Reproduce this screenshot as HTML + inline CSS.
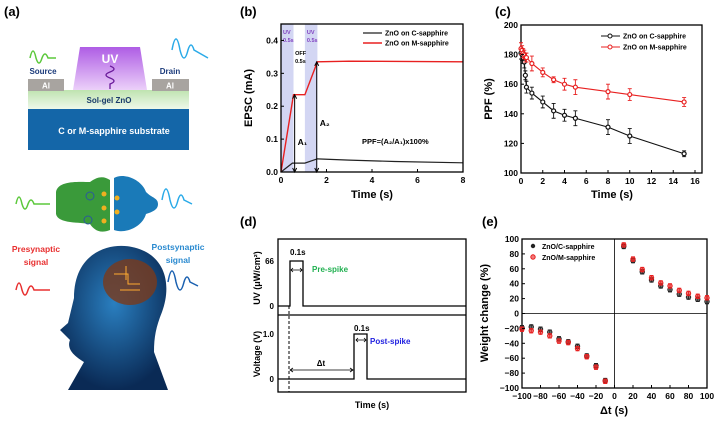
<!DOCTYPE html>
<html><head><meta charset="utf-8"><style>
body{margin:0;background:#fff}
svg{display:block;font-family:"Liberation Sans",sans-serif}
</style></head><body>
<svg id="fig" width="719" height="424" viewBox="0 0 719 424" xmlns="http://www.w3.org/2000/svg">
<defs>
<linearGradient id="uvg" x1="0" y1="0" x2="0" y2="1"><stop offset="0" stop-color="#a040e0"/><stop offset="1" stop-color="#e8c8f8"/></linearGradient>
<linearGradient id="zng" x1="0" y1="0" x2="0" y2="1"><stop offset="0" stop-color="#bfe3b0"/><stop offset="1" stop-color="#eef8ea"/></linearGradient>
<radialGradient id="headg" cx="0.5" cy="0.4" r="0.6"><stop offset="0" stop-color="#2a7fc0"/><stop offset="1" stop-color="#0a2a55"/></radialGradient>
</defs>
<g>
<text x="4" y="16" font-size="13" font-weight="bold">(a)</text>
<path d="M80,47 L140,47 L147,90 L73,90 Z" fill="url(#uvg)" opacity="0.85"/>
<text x="110" y="63" font-size="12" font-weight="bold" fill="#fff" text-anchor="middle">UV</text>
<path d="M110,66 q8,3 0,6 q-8,3 0,6 q8,3 0,6 l0,5" stroke="#6a1a9a" fill="none" stroke-width="1.3"/>
<rect x="28" y="90" width="161" height="19" fill="url(#zng)"/>
<text x="109" y="103" font-size="8" font-weight="bold" fill="#1a3a6a" text-anchor="middle">Sol-gel ZnO</text>
<rect x="28" y="79" width="36" height="12" fill="#a8a4a0"/>
<rect x="152" y="79" width="37" height="12" fill="#a8a4a0"/>
<text x="46" y="88.5" font-size="8" font-weight="bold" fill="#fff" text-anchor="middle">Al</text>
<text x="170" y="88.5" font-size="8" font-weight="bold" fill="#fff" text-anchor="middle">Al</text>
<rect x="28" y="109" width="161" height="41" fill="#1466a8"/>
<text x="114" y="134" font-size="9" font-weight="bold" fill="#fff" text-anchor="middle">C or M-sapphire substrate</text>
<text x="43" y="74" font-size="8" font-weight="bold" fill="#1a3a7a" text-anchor="middle">Source</text>
<text x="170" y="74" font-size="8" font-weight="bold" fill="#1a3a7a" text-anchor="middle">Drain</text>
<path d="M30,58 q3,-14 6,0 q3,10 6,0 q3,-8 6,0 l8,0" stroke="#5cc83c" stroke-width="1.5" fill="none"/>
<path d="M172,50 q4,-22 8,0 q4,16 8,0 q3,-10 6,0 l14,8" stroke="#2aaae8" stroke-width="1.5" fill="none"/>
<path d="M56,192 C58,180 80,182 90,182 C98,176 104,176 110,180 L110,230 C100,234 94,230 90,224 C80,222 58,224 56,214 Z" fill="#3a9a3a"/>
<path d="M114,178 C124,172 142,180 146,192 C152,198 158,198 158,204 C158,210 152,212 146,214 C142,228 124,234 114,230 Z" fill="#1a7ab8"/>
<circle cx="90" cy="196" r="4" fill="none" stroke="#2a5a9a"/><circle cx="88" cy="220" r="4" fill="none" stroke="#2a5a9a"/>
<circle cx="104" cy="194" r="2.5" fill="#f0b020"/><circle cx="104" cy="208" r="2.5" fill="#f0b020"/><circle cx="104" cy="221" r="2.5" fill="#f0b020"/>
<circle cx="117" cy="198" r="2.5" fill="#f0b020"/><circle cx="117" cy="212" r="2.5" fill="#f0b020"/>
<path d="M16,204 q3,-14 6,0 q3,10 6,0 q3,-8 6,0 l16,0" stroke="#5cc83c" stroke-width="1.5" fill="none"/>
<path d="M162,200 q4,-22 8,0 q4,16 8,0 q3,-10 6,0 l8,4" stroke="#2aaae8" stroke-width="1.5" fill="none"/>
<text x="36" y="252" font-size="8.5" font-weight="bold" fill="#e83030" text-anchor="middle">Presynaptic</text>
<text x="36" y="265" font-size="8.5" font-weight="bold" fill="#e83030" text-anchor="middle">signal</text>
<text x="178" y="250" font-size="8.5" font-weight="bold" fill="#2a8ad0" text-anchor="middle">Postsynaptic</text>
<text x="178" y="263" font-size="8.5" font-weight="bold" fill="#2a8ad0" text-anchor="middle">signal</text>
<path d="M16,290 q3,-14 6,0 q3,10 6,0 q3,-8 6,0 l16,0" stroke="#e83030" stroke-width="1.5" fill="none"/>
<path d="M168,282 q4,-22 8,0 q4,16 8,0 q3,-10 6,0 l8,4" stroke="#1a60b0" stroke-width="1.5" fill="none"/>
<path d="M74,298 C74,252 110,242 132,247 C166,254 172,285 162,312 C156,327 154,337 154,352 L168,390 L68,390 L84,362 C76,357 66,350 70,340 L60,330 L68,323 Z" fill="url(#headg)"/>
<ellipse cx="130" cy="282" rx="27" ry="23" fill="#7a3a1a" opacity="0.8"/>
<path d="M114,274 h14 v10 h12 M120,290 h20 M126,266 v14" stroke="#ffaa30" stroke-width="1" fill="none"/>
</g>
<g id="pb"></g>
<g id="pc"></g>
<g id="pd"></g>
<g id="pe"></g>
</svg>
<script>
const NS="http://www.w3.org/2000/svg";
function mk(p,t,a,txt){const e=document.createElementNS(NS,t);for(const k in a)e.setAttribute(k,a[k]);if(txt!==undefined)e.textContent=txt;p.appendChild(e);return e;}

const bTimeC=[0,0.5,1.05,1.6,3,5,8];
const bCurC=[0,0.027,0.027,0.040,0.036,0.032,0.028];
const bTimeM=[0,0.55,1.05,1.6,3,8];
const bCurM=[0,0.235,0.235,0.335,0.337,0.335];
const bYTicks=[0,0.1,0.2,0.3,0.4];
const bXTicks=[0,2,4,6,8];
const cTime=[0,0.1,0.2,0.3,0.4,0.5,1,2,3,4,5,8,10,15];
const cPPFC=[181,180,178,175,166,158,154,148,142,139,137,131,125,113];
const cPPFM=[184,183,181,180,178,178,174,168,163,160,158,155,153,148];
const cErrC=[4,4,4,4,3,4,4,4,5,4,5,5,5,2];
const cErrM=[4,3,3,3,3,3,5,3,2,4,5,5,4,3];
const cXTicks=[0,2,4,6,8,10,12,14,16];
const cYTicks=[100,120,140,160,180,200];
const eDt=[-100,-90,-80,-70,-60,-50,-40,-30,-20,-10,10,20,30,40,50,60,70,80,90,100];
const eWC=[-19,-18,-21,-25,-34,-38,-44,-57,-70,-90,90,71,56,45,37,32,26,22,19,16];
const eWM=[-21,-23,-25,-30,-37,-39,-47,-58,-72,-91,92,73,59,48,41,37,31,27,23,21];
const eXTicks=[-100,-80,-60,-40,-20,0,20,40,60,80,100];
const eYTicks=[-100,-80,-60,-40,-20,0,20,40,60,80,100];
const TF=8.5, AF=11;

function axisFrame(g,x0,y0,x1,y1){const r=mk(g,'rect',{x:x0,y:y0,width:x1-x0,height:y1-y0,fill:'none',stroke:'#000','stroke-width':1.3});
}

(function(){
const g=document.getElementById('pb');
const L=281,R=463,T=24,B=172;
const X=v=>L+(v/8)*(R-L), Y=v=>B-(v/0.45)*(B-T);
mk(g,'text',{x:240,y:16,'font-size':13,'font-weight':'bold'},'(b)');
[[0,0.55],[1.05,1.6]].forEach(s=>{const r=mk(g,'rect',{x:X(s[0]),y:T,width:X(s[1])-X(s[0]),height:B-T,fill:'#c8ccf0',opacity:0.8});
});
mk(g,'text',{x:X(0)+2,y:34,'font-size':5.5,'font-weight':'bold',fill:'#8040c0'},'UV');
mk(g,'text',{x:X(0)+2,y:42,'font-size':5.5,'font-weight':'bold',fill:'#8040c0'},'0.5s');
mk(g,'text',{x:X(1.05)+2,y:34,'font-size':5.5,'font-weight':'bold',fill:'#8040c0'},'UV');
mk(g,'text',{x:X(1.05)+2,y:42,'font-size':5.5,'font-weight':'bold',fill:'#8040c0'},'0.5s');
mk(g,'text',{x:X(0.62),y:55,'font-size':5.5,'font-weight':'bold'},'OFF');
mk(g,'text',{x:X(0.62),y:63,'font-size':5.5,'font-weight':'bold'},'0.5s');
const pc=mk(g,'polyline',{points:bTimeC.map((t,i)=>X(t)+','+Y(bCurC[i])).join(' '),fill:'none',stroke:'#222','stroke-width':1.2});

const pm=mk(g,'polyline',{points:bTimeM.map((t,i)=>X(t)+','+Y(bCurM[i])).join(' '),fill:'none',stroke:'#e82020','stroke-width':1.4});

[[0.6,bCurM[1],'A₁',X(0.6)+3,Y(0.1)+6],[1.57,bCurM[3],'A₂',X(1.57)+3,Y(0.14)]].forEach(a=>{
const ln=mk(g,'line',{x1:X(a[0]),y1:Y(0),x2:X(a[0]),y2:Y(a[1]),stroke:'#000','stroke-width':1});

mk(g,'path',{d:`M${X(a[0])-2},${Y(a[1])+4} L${X(a[0])},${Y(a[1])} L${X(a[0])+2},${Y(a[1])+4}`,fill:'none',stroke:'#000'});
mk(g,'path',{d:`M${X(a[0])-2},${Y(0)-4} L${X(a[0])},${Y(0)} L${X(a[0])+2},${Y(0)-4}`,fill:'none',stroke:'#000'});
mk(g,'text',{x:a[3],y:a[4],'font-size':8.5,'font-weight':'bold'},a[2]);});
mk(g,'text',{x:362,y:144,'font-size':7.5,'font-weight':'bold'},'PPF=(A₂/A₁)x100%');
axisFrame(g,L,T,R,B);
bYTicks.forEach(v=>{mk(g,'line',{x1:L,y1:Y(v),x2:L+3,y2:Y(v),stroke:'#000'});
const t=mk(g,'text',{x:L-3,y:Y(v)+3,'font-size':TF,'font-weight':'bold','text-anchor':'end'},v.toFixed(1));
});
bXTicks.forEach(v=>{mk(g,'line',{x1:X(v),y1:B,x2:X(v),y2:B-3,stroke:'#000'});
const t=mk(g,'text',{x:X(v),y:B+11,'font-size':TF,'font-weight':'bold','text-anchor':'middle'},v);
});
const xt=mk(g,'text',{x:372,y:198,'font-size':AF,'font-weight':'bold','text-anchor':'middle'},'Time (s)');

const yt=mk(g,'text',{x:0,y:0,'font-size':AF,'font-weight':'bold','text-anchor':'middle',transform:`translate(252,98) rotate(-90)`},'EPSC (mA)');

mk(g,'line',{x1:363,y1:33,x2:382,y2:33,stroke:'#222','stroke-width':1.2});
mk(g,'text',{x:385,y:35.5,'font-size':7,'font-weight':'bold'},'ZnO on C-sapphire');
mk(g,'line',{x1:363,y1:43,x2:382,y2:43,stroke:'#e82020','stroke-width':1.4});
mk(g,'text',{x:385,y:45.5,'font-size':7,'font-weight':'bold'},'ZnO on M-sapphire');
})();

(function(){
const g=document.getElementById('pc');
const L=521,R=702,T=25,B=173;
const X=v=>L+(v/16)*(695-L), Y=v=>B-((v-100)/100)*(B-T);
mk(g,'text',{x:495,y:16,'font-size':13,'font-weight':'bold'},'(c)');
axisFrame(g,L,T,R,B);
[[cPPFC,cErrC,'#111','series-c-sapphire'],[cPPFM,cErrM,'#e82020','series-m-sapphire']].forEach(s=>{
const pl=mk(g,'polyline',{points:cTime.map((t,i)=>X(t)+','+Y(s[0][i])).join(' '),fill:'none',stroke:s[2],'stroke-width':1.1});

cTime.forEach((t,i)=>{const y1=Y(s[0][i]+s[1][i]),y2=Y(s[0][i]-s[1][i]);
mk(g,'path',{d:`M${X(t)},${y1}V${y2}M${X(t)-2},${y1}h4M${X(t)-2},${y2}h4`,stroke:s[2],'stroke-width':0.9,fill:'none'});
const c=mk(g,'circle',{cx:X(t),cy:Y(s[0][i]),r:2,fill:'#fff',stroke:s[2],'stroke-width':1.2});
});});
cYTicks.forEach(v=>{mk(g,'line',{x1:L,y1:Y(v),x2:L+3,y2:Y(v),stroke:'#000'});
const t=mk(g,'text',{x:L-3,y:Y(v)+3,'font-size':TF,'font-weight':'bold','text-anchor':'end'},v);
});
cXTicks.forEach(v=>{mk(g,'line',{x1:X(v),y1:B,x2:X(v),y2:B-3,stroke:'#000'});
const t=mk(g,'text',{x:X(v),y:B+11,'font-size':TF,'font-weight':'bold','text-anchor':'middle'},v);
});
const xt=mk(g,'text',{x:612,y:198,'font-size':AF,'font-weight':'bold','text-anchor':'middle'},'Time (s)');

const yt=mk(g,'text',{x:0,y:0,'font-size':AF,'font-weight':'bold','text-anchor':'middle',transform:`translate(492,99) rotate(-90)`},'PPF (%)');

mk(g,'line',{x1:601,y1:36,x2:620,y2:36,stroke:'#111'});mk(g,'circle',{cx:610,cy:36,r:2,fill:'#fff',stroke:'#111'});
mk(g,'text',{x:623,y:38.5,'font-size':7,'font-weight':'bold'},'ZnO on C-sapphire');
mk(g,'line',{x1:601,y1:47,x2:620,y2:47,stroke:'#e82020'});mk(g,'circle',{cx:610,cy:47,r:2,fill:'#fff',stroke:'#e82020'});
mk(g,'text',{x:623,y:49.5,'font-size':7,'font-weight':'bold'},'ZnO on M-sapphire');
})();

(function(){
const g=document.getElementById('pd');
mk(g,'text',{x:240,y:226,'font-size':13,'font-weight':'bold'},'(d)');
axisFrame(g,278,239,466,392);
mk(g,'line',{x1:278,y1:315,x2:466,y2:315,stroke:'#000','stroke-width':1.2});
const up=mk(g,'path',{d:'M278,306 H290 V261 H303 V306 H466',fill:'none',stroke:'#000','stroke-width':1.3});

const lo=mk(g,'path',{d:'M278,379 H354 V334 H367 V379 H466',fill:'none',stroke:'#000','stroke-width':1.3});

mk(g,'line',{x1:289,y1:306,x2:289,y2:392,stroke:'#000','stroke-dasharray':'3,2'});
mk(g,'path',{d:'M291,270 H302 M293,268 L291,270 L293,272 M300,268 L302,270 L300,272',stroke:'#000',fill:'none','stroke-width':0.8});
mk(g,'path',{d:'M356,340 H366 M358,338 L356,340 L358,342 M364,338 L366,340 L364,342',stroke:'#000',fill:'none','stroke-width':0.8});
mk(g,'path',{d:'M290,370 H353 M293,368 L290,370 L293,372 M350,368 L353,370 L350,372',stroke:'#000',fill:'none','stroke-width':0.8});
mk(g,'text',{x:290,y:255,'font-size':8,'font-weight':'bold'},'0.1s');
mk(g,'text',{x:354,y:331,'font-size':8,'font-weight':'bold'},'0.1s');
mk(g,'text',{x:321,y:366,'font-size':8,'font-weight':'bold','text-anchor':'middle'},'Δt');
mk(g,'text',{x:312,y:272,'font-size':8,'font-weight':'bold',fill:'#20b050'},'Pre-spike');
mk(g,'text',{x:370,y:344,'font-size':8,'font-weight':'bold',fill:'#2020e0'},'Post-spike');
mk(g,'text',{x:274,y:264,'font-size':8,'font-weight':'bold','text-anchor':'end'},'66');
mk(g,'text',{x:274,y:309,'font-size':8,'font-weight':'bold','text-anchor':'end'},'0');
mk(g,'text',{x:274,y:337,'font-size':8,'font-weight':'bold','text-anchor':'end'},'1.0');
mk(g,'text',{x:274,y:382,'font-size':8,'font-weight':'bold','text-anchor':'end'},'0');
mk(g,'text',{x:0,y:0,'font-size':9,'font-weight':'bold','text-anchor':'middle',transform:'translate(260,278) rotate(-90)'},'UV (μW/cm²)');
mk(g,'text',{x:0,y:0,'font-size':9,'font-weight':'bold','text-anchor':'middle',transform:'translate(260,354) rotate(-90)'},'Voltage (V)');
const xt=mk(g,'text',{x:372,y:408,'font-size':9,'font-weight':'bold','text-anchor':'middle'},'Time (s)');

})();

(function(){
const g=document.getElementById('pe');
const L=522,R=707,T=239,B=388;
const X=v=>L+((v+100)/200)*(R-L), Y=v=>B-((v+100)/200)*(B-T);
mk(g,'text',{x:482,y:226,'font-size':13,'font-weight':'bold'},'(e)');
axisFrame(g,L,T,R,B);
mk(g,'line',{x1:X(0),y1:T,x2:X(0),y2:B,stroke:'#000','stroke-width':0.8});
mk(g,'line',{x1:L,y1:Y(0),x2:R,y2:Y(0),stroke:'#000','stroke-width':0.8});
[[eWC,'#222','series-c-sapphire'],[eWM,'#e82020','series-m-sapphire']].forEach(s=>{
eDt.forEach((d,i)=>{const v=s[0][i];
mk(g,'path',{d:`M${X(d)},${Y(v+3)}V${Y(v-3)}M${X(d)-2},${Y(v+3)}h4M${X(d)-2},${Y(v-3)}h4`,stroke:s[1],'stroke-width':0.9,fill:'none'});
const c=mk(g,'circle',{cx:X(d),cy:Y(v),r:2.2,fill:s[1],stroke:s[1],'fill-opacity':0.6});
});});
eYTicks.forEach(v=>{mk(g,'line',{x1:L,y1:Y(v),x2:L+3,y2:Y(v),stroke:'#000'});
const t=mk(g,'text',{x:L-3,y:Y(v)+3,'font-size':TF,'font-weight':'bold','text-anchor':'end'},v<0?'−'+(-v):v);
});
eXTicks.forEach(v=>{mk(g,'line',{x1:X(v),y1:B,x2:X(v),y2:B-3,stroke:'#000'});
const t=mk(g,'text',{x:X(v),y:B+11,'font-size':TF,'font-weight':'bold','text-anchor':'middle'},v<0?'−'+(-v):v);
});
const xt=mk(g,'text',{x:614,y:414,'font-size':AF,'font-weight':'bold','text-anchor':'middle'},'Δt (s)');

const yt=mk(g,'text',{x:0,y:0,'font-size':AF,'font-weight':'bold','text-anchor':'middle',transform:'translate(488,313) rotate(-90)'},'Weight change (%)');

mk(g,'circle',{cx:533,cy:246,r:2.2,fill:'#222'});
mk(g,'text',{x:542,y:249,'font-size':7,'font-weight':'bold'},'ZnO/C-sapphire');
mk(g,'circle',{cx:533,cy:257,r:2.2,fill:'#e82020','fill-opacity':0.6,stroke:'#e82020'});
mk(g,'text',{x:542,y:260,'font-size':7,'font-weight':'bold'},'ZnO/M-sapphire');
})();
</script>
</body></html>
